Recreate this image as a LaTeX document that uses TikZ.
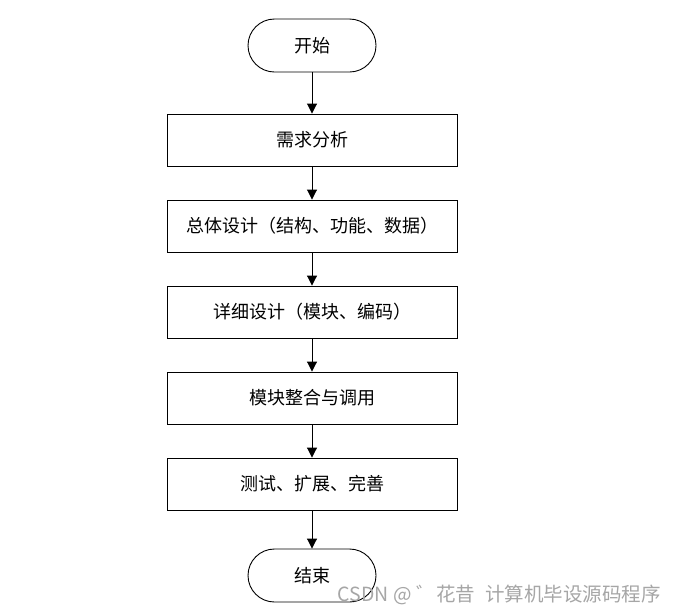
\documentclass[tikz,border=0pt]{standalone}
\usepackage{fontspec}
\newfontfamily\cjk{Noto Sans CJK SC}
\usetikzlibrary{arrows.meta}
\begin{document}
\begin{tikzpicture}[x=1pt,y=-1pt,
  every node/.style={font=\cjk\fontsize{18}{20}\selectfont, text=black},
  proc/.style={draw=black, line width=0.9pt, minimum width=290pt, minimum height=52pt, inner sep=0pt},
  term/.style={draw=black, line width=0.9pt, minimum width=128pt, minimum height=53pt, rounded corners=26.5pt, inner sep=0pt},
  flow/.style={draw=black, line width=0.9pt, -{Triangle[length=10pt,width=10pt]}}
]
\useasboundingbox[fill=white] (0,0) rectangle (676,614);
\node[term] (start) at (312,45.5) {开始};
\node[proc] (b1) at (312,140) {需求分析};
\node[proc] (b2) at (312,226) {总体设计（结构、功能、数据）};
\node[proc] (b3) at (312,312) {详细设计（模块、编码）};
\node[proc] (b4) at (312,398) {模块整合与调用};
\node[proc] (b5) at (312,484) {测试、扩展、完善};
\node[term] (end) at (312,575.5) {结束};
\draw[flow] (start) -- (b1);
\draw[flow] (b1) -- (b2);
\draw[flow] (b2) -- (b3);
\draw[flow] (b3) -- (b4);
\draw[flow] (b4) -- (b5);
\draw[flow] (b5) -- (end);
\node[anchor=east, inner sep=0pt, font=\cjk\fontsize{19.5}{21}\selectfont, text=black!35] (wm) at (661,595) {CSDN @\hspace{5pt}゛花昔\hspace{10pt}计算机毕设源码程序};
\end{tikzpicture}
\end{document}
